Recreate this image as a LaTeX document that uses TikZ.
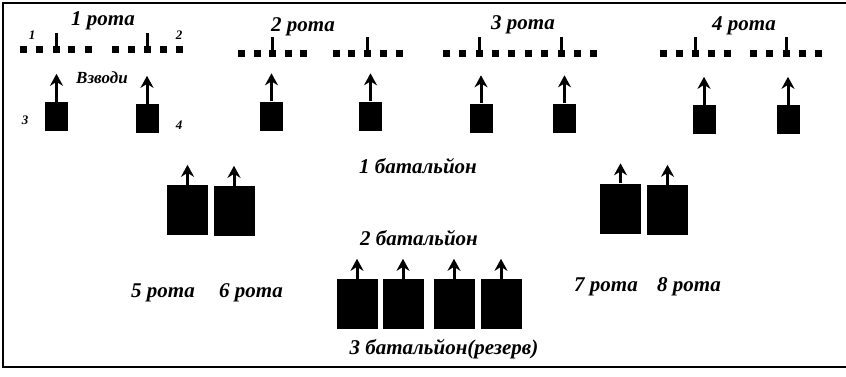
\documentclass[tikz,border=0pt]{standalone}
\usepackage{fontspec}
\setmainfont{Liberation Serif}
\usetikzlibrary{arrows.meta,positioning}

\begin{document}
\begin{tikzpicture}[x=1pt, y=-1pt, >={Stealth[length=12pt,width=13pt]},
  every node/.style={font=\bfseries\itshape},
  rota/.style={font=\bfseries\itshape\fontsize{21}{23}\selectfont},
  bat/.style={font=\bfseries\itshape\fontsize{21}{23}\selectfont},
  tag/.style={font=\bfseries\itshape\fontsize{13}{15}\selectfont},
  dot/.style={fill, minimum size=7pt, inner sep=0pt},
  squad/.style={fill, minimum width=23pt, minimum height=29pt, inner sep=0pt},
  coy/.style={fill, minimum width=41pt, minimum height=50pt, inner sep=0pt},
  arr/.style={->, line width=3pt}]
\useasboundingbox (0,0) rectangle (846,376);
\draw[line width=2pt] (846,3) -- (3,3) -- (3,367) -- (846,367);

% lines of soldiers, one row per company
\foreach \r/\y/\xs in {1/49/{23,39,56,71,88,115,131,147,163,179},
                       2/53/{241,257,272,288,303,336,351,367,383,399},
                       3/53/{446,462,479,495,511,528,544,561,577,593},
                       4/53/{663,679,695,711,727,753,769,786,802,818}}{
  \foreach \x [count=\i] in \xs
    \node[dot] (r\r d\i) at (\x,\y) {};
  \draw[line width=3pt] (r\r d3.center) -- ++(0,-16);
  \draw[line width=3pt] (r\r d8.center) -- ++(0,-16);
}

\node[rota] (rota1) at (103,21) {1 рота};
\node[rota] (rota2) at (303,27) {2 рота};
\node[rota] (rota3) at (523,25) {3 рота};
\node[rota] (rota4) at (744,26) {4 рота};
\node[tag] (n1) at (32,35) {1};
\node[tag] (n2) at (179,35) {2};
\node[tag] (n3) at (25,120) {3};
\node[tag] (n4) at (179,125) {4};
\node[tag, font=\bfseries\itshape\fontsize{17}{19}\selectfont] (vzv) at (102,78) {Взводи};

% platoons
\node[squad] (p1) at (56.5,116.5) {};
\node[squad] (p2) at (147,118.5) {};
\node[squad] (p3) at (271.5,116) {};
\node[squad] (p4) at (370.5,116) {};
\node[squad] (p5) at (481,118) {};
\node[squad] (p6) at (564.5,118) {};
\node[squad] (p7) at (704,119.5) {};
\node[squad] (p8) at (788,119.5) {};
\foreach \p in {p1,p2,p3,p4,p5,p6,p7,p8}
  \draw[arr] (\p.north) -- ++(0,-28);

% companies of the 2nd and 3rd battalions
\node[coy] (c5) at (187.5,210) {};
\node[coy] (c6) at (234,211) {};
\node[coy] (c7) at (620.5,208.5) {};
\node[coy] (c8) at (667.5,210) {};
\node[coy] (c9) at (357,304) {};
\node[coy] (c10) at (403,304) {};
\node[coy] (c11) at (454,304) {};
\node[coy] (c12) at (501,304) {};
\foreach \c in {c5,c6,c7,c8,c9,c10,c11,c12}
  \draw[arr] (\c.north) -- ++(0,-20);

\node[bat] (bat1) at (418,166) {1 батальйон};
\node[bat] (bat2) at (419,238) {2 батальйон};
\node[bat] (rota5) at (163,293) {5 рота};
\node[bat] (rota6) at (251,293) {6 рота};
\node[bat] (rota7) at (606,287) {7 рота};
\node[bat] (rota8) at (689,287) {8 рота};
\node[bat] (bat3) at (444,349) {3 батальйон(резерв)};
\end{tikzpicture}
\end{document}
